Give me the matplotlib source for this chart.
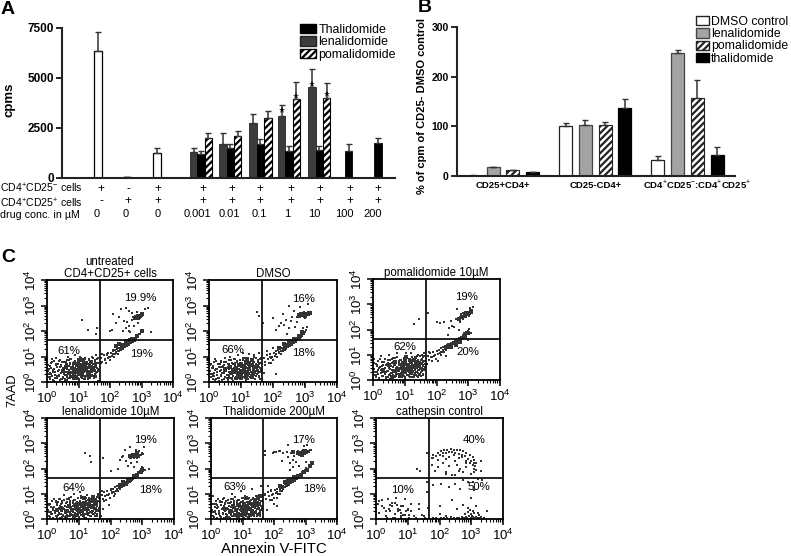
import matplotlib
matplotlib.use('Agg')
import matplotlib.pyplot as plt
import numpy as np
from matplotlib.patches import Patch
from matplotlib.ticker import FixedLocator, NullFormatter

plt.rcParams['font.family'] = ['Liberation Sans', 'DejaVu Sans']
plt.rcParams['mathtext.fontset'] = 'custom'
plt.rcParams['mathtext.rm'] = 'Liberation Sans'
plt.rcParams['hatch.linewidth'] = 1.6

# panel A values
single_pos = [4.9, 8.84, 12.9]
single_val = [6367, 50, 1233]
single_err = [916, 10, 250]
len_pos = [17.9, 21.9, 26.0, 29.9, 34.0]
len_val = [1283, 1683, 2733, 3100, 4533]
len_err = [234, 550, 450, 533, 900]
thal_pos = [18.9, 22.9, 27.0, 30.9, 35.0, 39.0, 43.0]
thal_val = [1200, 1517, 1700, 1333, 1383, 1333, 1750]
thal_err = [167, 183, 233, 284, 234, 384, 250]
pom_pos = [19.9, 23.9, 28.0, 31.9, 36.0]
pom_val = [1983, 2117, 2983, 3933, 4000]
pom_err = [284, 216, 367, 850, 733]
star_pos = [29.9, 31.9, 34.0, 36.0]
star_val = [3420, 4120, 4720, 4180]

row_labels = ['CD4$^{+}$CD25$^{-}$ cells', 'CD4$^{+}$CD25$^{+}$ cells', 'drug conc. in µM']
cd25neg = ['+', '-', '+', '+', '+', '+', '+', '+', '+', '+']
cd25pos = ['-', '+', '+', '+', '+', '+', '+', '+', '+', '+']
conc = ['0', '0', '0', '0.001', '0.01', '0.1', '1', '10', '100', '200']

# panel B values
b_groups = ['CD25+CD4+', 'CD25-CD4+', 'CD4$^{+}$CD25$^{-}$:CD4$^{+}$CD25$^{+}$']
dmso_val = [1, 100, 32]
dmso_err = [0.5, 6, 8]
lena_val = [18, 102, 247]
lena_err = [1, 10, 6]
poma_val = [12, 102, 157]
poma_err = [1, 6, 36]
thali_val = [8, 136, 42]
thali_err = [1, 20, 17]

# panel C dots, in decades
p1_x = [0.05,0.1,0.12,0.2,0.22,0.3,0.33,0.4,0.45,0.5,0.55,0.6,0.62,0.7,0.72,0.8,0.85,0.9,1.0,1.05,1.1,1.2,1.3,1.4,1.5,1.55,1.6,0.15,0.25,0.35,0.5,0.65,0.75,0.95,1.15,1.35,0.08,0.28,0.42,0.58,0.68,0.88,1.02,1.22,1.45,1.62,1.75,1.85,1.9,2.0,2.1,1.72,1.95,2.15,2.6,2.05,2.2,2.4,2.45,2.5,2.55,2.7,2.75,2.85,3.1,3.2,2.1,2.3,2.35,2.6,2.65,2.9,2.5,2.6,1.1,1.3,1.6,1.55,2.0,3.3]
p1_y = [0.5,0.2,0.75,0.4,0.05,0.65,0.25,0.85,0.1,0.55,0.3,0.78,0.08,0.42,0.9,0.18,0.72,0.33,0.05,1.0,0.15,0.95,0.1,0.25,0.15,1.05,0.4,0.9,0.15,0.45,0.15,0.25,0.6,0.1,0.25,0.4,0.35,0.95,0.6,0.05,1.0,1.05,0.3,0.2,0.95,0.05,1.1,0.85,1.05,1.0,1.25,0.75,1.15,1.1,2.0,2.05,2.3,2.0,2.4,2.1,2.35,2.7,2.2,2.75,2.85,2.9,2.65,2.55,2.85,2.2,1.95,2.3,2.9,2.8,2.45,2.05,2.1,1.9,2.0,1.95]
p1_core_x = [0.5,0.6,0.7,0.8,0.9,0.95,1.0,1.05,1.1,1.15,1.2,1.25,1.3,1.35,1.4,1.45,0.85,1.0,1.15,1.3,2.2,2.3,2.4,2.5,2.6,2.65,2.7,2.75,2.85,3.0,2.8,2.85,2.9,2.95,3.0]
p1_core_y = [0.45,0.6,0.35,0.55,0.4,0.7,0.5,0.3,0.65,0.45,0.55,0.75,0.4,0.6,0.8,0.55,0.25,0.85,0.85,0.3,1.4,1.5,1.45,1.6,1.55,1.65,1.7,1.65,1.8,2.0,2.5,2.55,2.5,2.6,2.65]

p2_x = [0.05,0.12,0.18,0.25,0.3,0.38,0.42,0.5,0.55,0.6,0.65,0.72,0.8,0.85,0.92,1.0,1.08,1.15,1.25,1.32,1.42,1.5,1.55,1.6,0.1,0.22,0.35,0.48,0.58,0.75,0.95,1.2,1.35,0.15,0.45,0.68,1.05,1.45,1.72,1.8,1.9,2.0,2.1,2.2,2.3,1.75,1.95,1.7,1.55,1.5,2.0,2.1,2.25,2.3,2.45,2.5,2.55,2.6,2.65,2.7,2.85,3.1,2.35,2.4,2.75,2.95,3.05,2.2,2.5,3.0]
p2_y = [0.7,0.25,0.9,0.5,0.05,0.8,0.35,0.95,0.15,0.6,1.0,0.1,0.9,0.2,1.05,0.1,0.95,0.05,1.1,0.15,1.05,0.3,1.15,0.1,0.55,0.1,0.6,0.4,0.1,0.05,0.2,0.15,0.25,0.35,0.6,0.15,1.15,0.1,0.35,1.2,1.0,1.35,0.3,1.15,1.3,0.65,0.75,2.3,2.6,2.75,2.5,2.05,2.3,2.65,1.9,2.1,2.4,2.55,2.8,2.15,2.95,3.05,2.25,2.45,2.35,2.1,2.15,2.2,3.0,2.5]
p2_core_x = [0.5,0.65,0.75,0.85,0.95,1.0,1.05,1.1,1.15,1.2,1.25,1.3,1.35,1.4,1.45,1.0,1.2,2.2,2.35,2.4,2.5,2.55,2.65,2.7,2.8,2.9,2.8,2.9,3.0,3.1,3.15]
p2_core_y = [0.5,0.6,0.4,0.55,0.35,0.7,0.45,0.6,0.3,0.75,0.5,0.65,0.85,0.4,0.6,0.15,0.9,1.35,1.5,1.45,1.6,1.55,1.7,1.65,1.8,1.95,2.6,2.65,2.6,2.65,2.7]

p3_x = [0.03,0.08,0.12,0.2,0.25,0.3,0.35,0.42,0.5,0.55,0.6,0.7,0.75,0.82,0.9,1.0,1.05,1.12,1.2,1.3,1.38,1.45,1.5,1.55,1.6,0.15,0.28,0.4,0.52,0.65,0.78,0.95,1.25,1.42,1.58,1.62,1.7,1.75,1.85,1.95,2.05,2.15,2.3,1.45,1.3,1.72,2.0,2.1,2.25,2.35,2.4,2.5,2.6,2.7,2.8,2.9,3.05,2.45,2.55,2.65,2.75,2.85,3.0,2.3,3.1,3.15,1.65]
p3_y = [0.85,0.2,0.6,0.05,0.95,0.3,0.7,0.1,1.0,0.25,0.85,0.1,1.05,0.2,0.1,0.05,1.05,0.15,1.05,0.1,0.95,0.2,0.15,1.0,0.4,0.4,0.55,0.3,0.05,0.1,0.25,0.2,0.3,0.1,0.7,1.05,0.65,1.1,0.9,1.0,0.75,1.1,0.95,2.4,2.2,2.65,2.3,2.25,2.3,1.8,2.05,2.15,2.4,2.0,2.55,2.7,2.85,2.35,2.1,2.8,2.3,2.4,1.6,1.25,1.85,2.9,0.65]
p3_core_x = [0.3,0.5,0.65,0.7,0.8,0.9,0.95,1.0,1.05,1.1,1.15,1.2,1.25,1.3,1.35,1.4,0.85,1.05,0.6,2.3,2.4,2.45,2.55,2.6,2.65,2.75,2.8,2.9,3.0,2.7,2.8,2.9,3.0,3.1]
p3_core_y = [0.4,0.6,0.35,0.7,0.45,0.6,0.3,0.75,0.45,0.6,0.35,0.7,0.55,0.8,0.5,0.65,0.15,0.9,0.1,1.3,1.4,1.3,1.45,1.4,1.55,1.5,1.65,1.7,1.85,2.4,2.5,2.55,2.65,2.75]

p4_x = [0.05,0.12,0.2,0.28,0.35,0.42,0.5,0.55,0.62,0.7,0.78,0.85,0.95,1.05,1.15,1.25,1.35,1.5,1.6,0.18,0.3,0.45,0.6,0.75,0.9,1.1,1.3,1.45,1.65,1.72,1.8,1.9,2.0,2.1,2.2,1.75,1.95,2.05,1.2,1.35,1.4,1.75,2.3,2.35,2.4,2.5,2.55,2.6,2.65,2.75,2.85,3.0,3.1,3.2,2.0,2.25,2.45,2.6,2.7,3.05,2.9,2.8,1.7,1.62]
p4_y = [0.55,0.2,0.05,0.7,0.15,0.8,0.1,0.95,0.05,0.85,0.15,1.0,0.1,1.05,0.1,0.95,0.1,0.1,1.0,0.35,0.6,0.2,0.1,0.15,0.2,0.15,0.2,0.3,0.85,1.1,0.7,0.95,1.2,0.9,1.1,0.4,0.55,1.05,2.6,2.5,2.25,2.4,2.35,2.45,2.5,2.3,2.1,2.4,2.2,2.05,2.25,2.05,1.95,2.0,1.9,2.0,2.75,2.85,2.45,2.85,2.7,2.75,0.1,0.3]
p4_core_x = [0.3,0.45,0.6,0.7,0.8,0.9,1.0,1.05,1.1,1.15,1.2,1.25,1.3,1.35,1.4,1.45,1.5,0.95,1.15,2.3,2.4,2.5,2.55,2.65,2.75,2.85,2.95,3.0,2.6,2.7,2.8,2.85]
p4_core_y = [0.35,0.45,0.3,0.5,0.35,0.55,0.4,0.6,0.3,0.5,0.65,0.4,0.6,0.75,0.5,0.85,0.7,0.15,0.85,1.35,1.45,1.4,1.55,1.6,1.7,1.75,1.85,1.95,2.5,2.55,2.55,2.6]

p5_x = [0.05,0.12,0.2,0.28,0.33,0.4,0.48,0.55,0.6,0.68,0.72,0.8,0.88,0.95,1.05,1.12,1.2,1.3,1.38,1.45,1.55,1.6,0.15,0.25,0.38,0.5,0.62,0.78,1.0,1.28,1.5,1.72,1.8,1.9,2.0,2.1,2.2,1.78,1.95,2.1,1.7,1.7,2.0,2.05,2.3,2.4,2.45,2.5,2.55,2.6,2.65,2.7,2.75,2.85,2.95,3.05,2.15,2.25,2.5,2.6,2.8,3.0,2.45,1.98,2.2]
p5_y = [0.9,0.3,0.55,0.7,0.05,0.85,0.2,0.65,0.05,1.0,0.1,0.2,0.08,1.1,0.05,0.2,0.12,1.2,0.2,0.1,0.25,1.3,0.6,0.2,0.4,0.08,0.2,0.1,0.15,0.1,0.15,1.0,1.3,1.15,0.6,0.85,1.0,0.35,0.75,0.5,2.55,2.7,2.65,2.65,2.6,2.65,2.45,2.2,2.6,2.35,2.5,2.25,2.7,2.55,2.9,2.95,2.7,2.3,1.95,2.05,2.1,2.25,2.95,2.6,2.7]
p5_core_x = [0.45,0.6,0.7,0.8,0.9,1.0,1.05,1.1,1.15,1.2,1.25,1.3,1.35,1.4,1.45,1.5,1.55,0.9,1.1,2.2,2.35,2.45,2.55,2.65,2.75,2.85,2.95,3.05,3.15,3.2,2.6,2.75,2.85,2.95,2.9]
p5_core_y = [0.4,0.3,0.5,0.35,0.55,0.4,0.6,0.3,0.5,0.65,0.4,0.6,0.5,0.75,0.65,0.85,0.9,0.15,0.85,1.3,1.45,1.5,1.6,1.65,1.7,1.75,1.85,1.95,2.1,2.2,2.65,2.6,2.6,2.7,2.55]

p6_x = [0.05,0.1,0.18,0.25,0.3,0.38,0.45,0.5,0.55,0.62,0.7,0.78,0.85,0.92,1.0,1.1,1.2,1.35,1.5,1.65,1.6,1.45,0.35,0.6,0.8,1.05,1.25,1.35,1.55,1.6,1.9,2.0,2.05,2.2,2.3,2.4,2.5,2.55,2.65,2.75,2.9,3.0,3.15,3.25,3.5,1.8,2.2,2.6,3.05,3.1,2.5,2.75,2.85,3.0,3.1,3.2,3.3,1.75,1.8,1.85,1.95,2.1,2.2,2.3,2.4,2.55,2.65,2.75,2.85,3.3,3.35,1.4,1.6,1.3,2.0,2.9,3.4]
p6_y = [0.6,0.25,0.75,0.45,0.1,0.8,0.3,0.65,0.05,0.85,0.3,0.5,0.15,0.8,0.35,0.6,0.1,0.6,0.1,0.45,1.05,0.15,0.05,0.05,0.05,0.05,0.05,0.4,0.05,1.45,0.05,0.5,1.4,0.1,1.25,0.75,1.4,0.4,1.2,0.55,1.45,0.85,0.5,0.15,0.3,1.35,1.85,1.9,1.45,1.15,1.75,1.55,2.05,1.8,2.0,1.6,1.9,2.15,2.4,1.9,2.05,2.2,1.8,2.1,1.75,2.15,2.0,1.85,2.2,2.3,1.55,1.9,2.6,2.0,0.2,0.45,0.05]
p6_arc_x = [1.75,1.8,1.88,1.95,2.0,2.05,2.1,2.15,2.2,2.25,2.3,2.35,2.4,2.45,2.5,2.55,2.6,2.65,2.7,2.75,2.8,2.85,2.9,2.95,3.0,3.05,3.08,3.1,3.12,3.14,3.16,2.1,2.3,2.45,2.6,2.72,2.84,2.95,3.04,3.1,1.95,2.2,2.5]
p6_arc_y = [2.4,2.55,2.5,2.62,2.55,2.7,2.6,2.72,2.62,2.75,2.65,2.78,2.66,2.75,2.62,2.74,2.58,2.72,2.55,2.7,2.48,2.62,2.38,2.55,2.3,2.45,2.2,2.35,2.1,2.22,1.95,2.5,2.45,2.52,2.4,2.45,2.3,2.2,2.15,1.85,2.35,2.38,2.3]
p6_low_x = [1.8,1.9,2.05,2.15,2.25,2.35,2.45,2.55,2.62,2.7,2.76,2.82,2.88,2.93,2.98,3.02,3.06,3.1,3.15,3.2,3.25,3.3,3.4,2.8,2.9,3.0,3.1,2.95,3.05,3.2,0.3,0.5,0.6,0.7,0.8,0.9,1.0,1.1,1.2,0.45,0.65,0.75,0.85,0.95,1.05,0.6,0.8,0.2,0.4,0.1]
p6_low_y = [0.03,0.05,0.02,0.04,0.03,0.06,0.03,0.05,0.02,0.06,0.03,0.08,0.05,0.12,0.04,0.1,0.06,0.03,0.09,0.05,0.03,0.06,0.04,0.2,0.28,0.18,0.22,0.35,0.3,0.25,0.3,0.5,0.2,0.4,0.25,0.15,0.4,0.3,0.1,0.55,0.55,0.35,0.5,0.3,0.15,0.65,0.1,0.5,0.4,0.7]

# dense clouds seen in the five cell panels
cloud_x = [0.04,0.07,0.11,0.14,0.17,0.19,0.23,0.26,0.29,0.31,0.34,0.37,0.39,0.41,0.44,0.46,0.48,0.51,0.53,0.56,0.58,0.59,0.61,0.63,0.64,0.66,0.67,0.69,0.71,0.73,0.74,0.76,0.77,0.79,0.81,0.82,0.83,0.84,0.86,0.87,0.88,0.89,0.91,0.92,0.93,0.94,0.96,0.97,0.98,0.99,1.01,1.02,1.03,1.04,1.06,1.07,1.08,1.09,1.11,1.12,1.13,1.14,1.16,1.17,1.18,1.19,1.21,1.22,1.23,1.24,1.26,1.27,1.28,1.29,1.31,1.32,1.33,1.34,1.36,1.37,1.38,1.39,1.41,1.42,1.43,1.44,1.46,1.47,1.48,1.49,1.51,1.52,1.53,1.54,1.56,1.57,1.58,1.59,1.61,1.63]
cloud_y1 = [0.42,0.18,0.63,0.31,0.77,0.09,0.52,0.28,0.71,0.14,0.44,0.83,0.23,0.58,0.36,0.67,0.12,0.49,0.79,0.27,0.55,0.07,0.38,0.72,0.19,0.61,0.33,0.86,0.47,0.15,0.69,0.25,0.53,0.41,0.11,0.75,0.34,0.59,0.22,0.46,0.81,0.29,0.64,0.17,0.51,0.37,0.73,0.26,0.43,0.57,0.13,0.68,0.32,0.48,0.88,0.21,0.62,0.39,0.54,0.16,0.74,0.35,0.45,0.84,0.24,0.56,0.66,0.1,0.42,0.78,0.3,0.6,0.5,0.2,0.7,0.4,0.9,0.33,0.55,0.65,0.15,0.47,0.8,0.28,0.58,0.38,0.72,0.95,0.25,0.52,0.62,0.44,0.85,0.35,0.7,0.18,0.55,0.92,0.42,0.75]
cloud_y2 = [0.66,0.31,0.12,0.54,0.24,0.47,0.83,0.38,0.16,0.59,0.72,0.27,0.49,0.08,0.64,0.35,0.78,0.21,0.43,0.56,0.11,0.69,0.29,0.52,0.86,0.4,0.17,0.61,0.33,0.75,0.23,0.5,0.92,0.36,0.67,0.14,0.58,0.44,0.8,0.26,0.53,0.12,0.7,0.39,0.62,0.22,0.48,0.88,0.34,0.16,0.6,0.41,0.76,0.28,0.55,0.96,0.37,0.65,0.2,0.46,0.84,0.3,0.57,0.13,0.72,0.42,0.52,0.9,0.25,0.63,0.36,0.47,0.79,0.55,0.27,0.68,0.41,0.86,0.18,0.6,0.33,0.74,0.5,0.98,0.38,0.62,0.24,0.45,0.7,0.55,0.3,0.8,0.48,0.66,0.25,0.6,0.4,0.75,0.95,0.5]
diag_x = [1.72,1.76,1.8,1.84,1.87,1.9,1.93,1.96,1.99,2.02,2.05,2.08,2.1,2.13,2.15,2.18,2.2,2.22,2.24,2.26,2.28,2.3,2.32,2.34,2.36,2.38,2.4,2.42,2.44,2.46,2.48,2.5,2.52,2.54,2.56,2.58,2.6,2.62,2.64,2.66,2.68,2.7,2.72,2.74,2.76,2.78,2.8,2.82,2.84,2.86,2.88,2.9,2.93,2.96,2.99,3.02]
diag_y = [0.95,0.8,1.05,0.9,0.75,1.1,0.95,1.0,0.85,1.15,1.02,1.2,1.08,1.0,1.25,1.12,1.18,1.3,1.1,1.22,1.32,1.2,1.28,1.38,1.26,1.34,1.42,1.3,1.38,1.48,1.36,1.44,1.52,1.42,1.5,1.58,1.46,1.54,1.62,1.52,1.6,1.68,1.58,1.66,1.72,1.64,1.72,1.78,1.7,1.78,1.86,1.82,1.9,1.88,1.96,2.02]
clump_x = [2.7,2.73,2.76,2.78,2.8,2.82,2.84,2.86,2.87,2.89,2.9,2.92,2.94,2.96,2.98,3.0,3.03,3.06]
clump_y = [2.45,2.55,2.5,2.6,2.47,2.56,2.52,2.62,2.48,2.58,2.53,2.64,2.55,2.5,2.6,2.57,2.65,2.62]
cloud_shift = [(0, 0), (0, 0), (0, 0), (0, -0.05), (0, -0.05)]
clump_shift = [(0, 0), (0.05, 0.1), (0.05, 0.05), (-0.05, -0.05), (0.1, 0.1)]

flow_titles = ['untreated\nCD4+CD25+ cells', 'DMSO', 'pomalidomide 10µM',
               'lenalidomide 10µM', 'Thalidomide 200µM', 'cathepsin control']
flow_pcts = [[('19.9%', 2.95, 3.3), ('61%', 0.7, 1.22), ('19%', 3.0, 1.1)],
             [('16%', 2.95, 3.27), ('66%', 0.75, 1.24), ('18%', 2.95, 1.13)],
             [('19%', 2.95, 3.3), ('62%', 1.0, 1.3), ('20%', 3.0, 1.1)],
             [('19%', 3.1, 3.13), ('64%', 0.85, 1.22), ('18%', 3.25, 1.13)],
             [('17%', 2.95, 3.13), ('63%', 0.75, 1.27), ('18%', 3.3, 1.18)],
             [('40%', 3.1, 3.13), ('10%', 0.85, 1.15), ('50%', 3.25, 1.27)]]
flow_x = [p1_x, p2_x, p3_x, p4_x, p5_x, p6_x]
flow_y = [p1_y, p2_y, p3_y, p4_y, p5_y, p6_y]
flow_core_x = [p1_core_x, p2_core_x, p3_core_x, p4_core_x, p5_core_x, p6_arc_x]
flow_core_y = [p1_core_y, p2_core_y, p3_core_y, p4_core_y, p5_core_y, p6_arc_y]
flow_boxes = [(47, 280, 173, 382), (209, 280, 337, 382), (373, 279, 500, 380),
              (47, 418, 174, 519), (211, 418, 337, 519), (376, 418, 503, 519)]
gate_x = [1.67, 1.66, 1.68, 1.67, 1.66, 1.68]
gate_y = [1.64, 1.63, 1.63, 1.63, 1.63, 1.63]

W, H = 791, 556
fig = plt.figure(figsize=(W / 100, H / 100), dpi=100)


def add_ax(l, t, r, b):
    return fig.add_axes([l / W, 1 - b / H, (r - l) / W, (b - t) / H])


def put(x, y, s, **kw):
    kw.setdefault('ha', 'center')
    kw.setdefault('va', 'center')
    fig.text(x / W, 1 - y / H, s, **kw)


def clean(ax, lw=1.5):
    for side in ['top', 'right']:
        ax.spines[side].set_visible(False)
    for side in ['left', 'bottom']:
        ax.spines[side].set_linewidth(lw)
        ax.spines[side].set_color('#222222')


def dots(ax, x, y, size=2.2, dx=0, dy=0):
    ax.scatter(10 ** (np.array(x) + dx), 10 ** (np.array(y) + dy), s=size, marker='s',
               color='#333333', linewidths=0)


ek = dict(ecolor='#333333', elinewidth=1.1, capsize=2.2, capthick=1)

# A
ax = add_ax(62, 28, 395, 178)
ax.bar(single_pos, single_val, 1.0, color='white', edgecolor='black', linewidth=0.9,
       yerr=[np.zeros(3), single_err], error_kw=ek)
ax.bar(len_pos, len_val, 1.0, color='#3c3c3c', edgecolor='#222222', linewidth=0.6,
       yerr=[np.zeros(5), len_err], error_kw=ek)
ax.bar(thal_pos, thal_val, 1.0, color='black', edgecolor='black', linewidth=0.6,
       yerr=[np.zeros(7), thal_err], error_kw=ek)
ax.bar(pom_pos, pom_val, 1.0, color='white', edgecolor='black', linewidth=0.8, hatch='/////',
       yerr=[np.zeros(5), pom_err], error_kw=ek)
ax.plot(star_pos, star_val, '*', color='black', ms=4.5, mew=0)
ax.set_xlim(0, 45.3)
ax.set_ylim(0, 7500)
ax.set_yticks([0, 2500, 5000, 7500])
ax.set_xticks([])
ax.tick_params(axis='y', labelsize=8.5, length=4, width=1.2, pad=2)
for t in ax.get_yticklabels():
    t.set_fontweight('bold')
clean(ax)
fig.legend(handles=[Patch(fc='black', ec='black', label='Thalidomide'),
                    Patch(fc='#3c3c3c', ec='#222222', label='lenalidomide'),
                    Patch(fc='white', ec='black', hatch='/////', label='pomalidomide')],
           loc='upper left', bbox_to_anchor=(300 / W, 1 - 24 / H), frameon=False, fontsize=8.9,
           labelspacing=0.02, handlelength=1.3, handleheight=0.8, handletextpad=0.2,
           borderpad=0, borderaxespad=0)
put(10, 100, 'cpms', rotation=90, fontsize=9.5, fontweight='bold')
put(1, 9, 'A', ha='left', fontsize=14, fontweight='bold')

col_plus = [101, 128, 158, 203, 232, 260, 291, 320, 350, 378]
col_conc = [97, 126, 158, 197, 229, 259, 287, 314, 344, 373]
put(0, 188, row_labels[0], ha='left', fontsize=7.6)
put(0, 203, row_labels[1], ha='left', fontsize=7.6)
put(0, 215, row_labels[2], ha='left', fontsize=7.7)
for x1, x2, a, b, c in zip(col_plus, col_conc, cd25neg, cd25pos, conc):
    put(x1, 189, a, fontsize=8.5)
    put(x1, 201, b, fontsize=8.5)
    put(x2, 214, c, fontsize=8)

# B
ax = add_ax(457, 27, 735, 176)
step = np.arange(3) * 4.68 + 0.83
ax.bar(step, dmso_val, 0.66, color='white', edgecolor='#222222', linewidth=0.9,
       yerr=[np.zeros(3), dmso_err], error_kw=ek)
ax.bar(step + 1, lena_val, 0.66, color='#a3a3a3', edgecolor='#444444', linewidth=0.9,
       yerr=[np.zeros(3), lena_err], error_kw=ek)
ax.bar(step + 2, poma_val, 0.66, color='white', edgecolor='#222222', linewidth=0.8, hatch='/////',
       yerr=[np.zeros(3), poma_err], error_kw=ek)
ax.bar(step + 3, thali_val, 0.66, color='black', edgecolor='black', linewidth=0.9,
       yerr=[np.zeros(3), thali_err], error_kw=ek)
ax.set_xlim(0, 14.1)
ax.set_ylim(0, 300)
ax.set_yticks([0, 100, 200, 300])
ax.set_xticks([])
ax.tick_params(axis='y', labelsize=7.5, length=4, width=1.2, pad=2)
for t in ax.get_yticklabels():
    t.set_fontweight('bold')
clean(ax)
fig.legend(handles=[Patch(fc='white', ec='#222222', label='DMSO control'),
                    Patch(fc='#a3a3a3', ec='#444444', label='lenalidomide'),
                    Patch(fc='white', ec='#222222', hatch='/////', label='pomalidomide'),
                    Patch(fc='black', ec='black', label='thalidomide')],
           loc='upper left', bbox_to_anchor=(696 / W, 1 - 16 / H), frameon=False, fontsize=8.8,
           labelspacing=0.02, handlelength=1.1, handleheight=0.8, handletextpad=0.15,
           borderpad=0, borderaxespad=0)
put(503, 186, b_groups[0], fontsize=6.8, fontweight='bold')
put(596, 186, b_groups[1], fontsize=6.8, fontweight='bold')
put(697, 185, b_groups[2], fontsize=6.8, fontweight='bold')
put(422, 106, '% of cpm of CD25- DMSO control', rotation=90, fontsize=8, fontweight='bold')
put(418, 8, 'B', ha='left', fontsize=14, fontweight='bold')

# C
major = [1, 10, 100, 1000, 10000]
minor = [m * 10 ** e for e in range(4) for m in range(2, 10)]
for i, (l, t, r, b) in enumerate(flow_boxes):
    ax = add_ax(l, t, r, b)
    dots(ax, flow_x[i], flow_y[i])
    dots(ax, flow_core_x[i], flow_core_y[i], size=4.5 if i == 5 else 9)
    if i < 5:
        cx, cy = cloud_shift[i]
        dots(ax, cloud_x, cloud_y1, dx=cx, dy=cy)
        dots(ax, cloud_x, cloud_y2, dx=cx, dy=cy)
        dots(ax, diag_x, diag_y, size=3)
        sx, sy = clump_shift[i]
        dots(ax, clump_x, clump_y, size=3, dx=sx, dy=sy)
    else:
        dots(ax, p6_low_x, p6_low_y)
    ax.set_xscale('log')
    ax.set_yscale('log')
    ax.set_xlim(1, 10000)
    ax.set_ylim(1, 10000)
    ax.axvline(10 ** gate_x[i], color='#111111', lw=1.3)
    ax.axhline(10 ** gate_y[i], color='#111111', lw=1.3)
    for side in ax.spines.values():
        side.set_linewidth(1.3)
    for a in (ax.xaxis, ax.yaxis):
        a.set_major_locator(FixedLocator(major))
        a.set_minor_locator(FixedLocator(minor))
        a.set_minor_formatter(NullFormatter())
    ax.set_xticklabels(['$\\mathregular{10^{%d}}$' % k for k in range(5)])
    ax.set_yticklabels(['$\\mathregular{10^{%d}}$' % k for k in range(5)],
                       rotation=90, va='center')
    ax.tick_params(which='major', length=4.5, width=1.1, labelsize=9.5, pad=1.5)
    ax.tick_params(which='minor', length=2.5, width=0.8)
    for s, x, y in flow_pcts[i]:
        ax.text(10 ** x, 10 ** y, s, fontsize=8.2, ha='center', va='center')
    ax.set_title(flow_titles[i], fontsize=8.3, pad=1.5, linespacing=1.0)

put(1, 258, 'C', ha='left', fontsize=14, fontweight='bold')
put(12, 390, '7AAD', rotation=90, fontsize=9.3)
put(274, 549, 'Annexin V-FITC', fontsize=10.8)

fig.savefig('out.png', dpi=100)
